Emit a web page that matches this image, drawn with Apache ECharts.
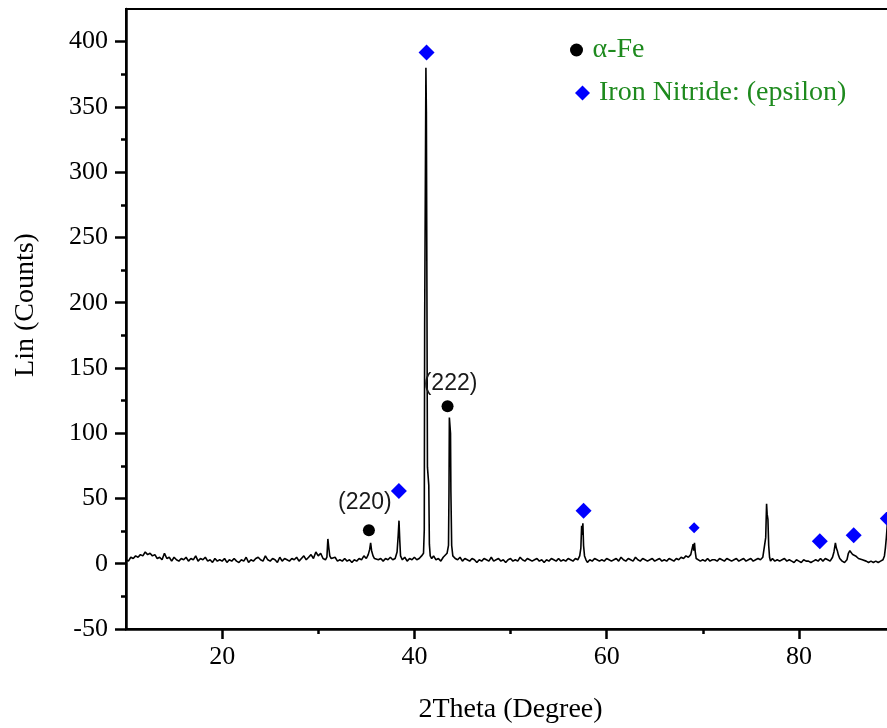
<!DOCTYPE html>
<html><head><meta charset="utf-8">
<script src="https://cdn.jsdelivr.net/npm/echarts@6/dist/echarts.min.js"></script>
<style>html,body{margin:0;padding:0;background:#fff}#c{width:887px;height:728px}</style>
</head><body><div id="c"></div>
<script>
// XRD pattern: [2Theta, Lin counts]
const pattern = [
[10,3],[10.25,2],[10.5,5],[10.75,4],[11,6],[11.25,5],[11.5,7],[11.75,6],[12,9],[12.25,7],[12.5,8],[12.75,6],[13,7],[13.25,4],[13.5,5],[13.75,3],[14,8],[14.25,4],[14.5,5],[14.75,2],
[15,5],[15.25,3],[15.5,2],[15.75,4],[16,3],[16.25,5],[16.5,2],[16.75,4],[17,3],[17.25,6],[17.5,2],[17.75,4],[18,3],[18.25,5],[18.5,2],[18.75,3],[19,1],[19.25,4],[19.5,2],[19.75,3],
[20,2],[20.25,4],[20.5,1],[20.75,3],[21,2],[21.25,4],[21.5,2],[21.75,1],[22,3],[22.25,2],[22.5,5],[22.75,1],[23,3],[23.25,2],[23.5,4],[23.75,5],[24,3],[24.25,2],[24.5,6],[24.75,3],
[25,2],[25.25,4],[25.5,3],[25.75,1],[26,5],[26.25,2],[26.5,4],[26.75,3],[27,2],[27.25,4],[27.5,3],[27.75,5],[28,2],[28.25,4],[28.5,6],[28.75,3],[29,5],[29.25,7],[29.5,4],[29.75,9],
[30,6],[30.25,8],[30.5,4],[30.75,3],[30.9,5],[31,19],[31.1,12],[31.2,6],[31.35,4],[31.5,3],[31.75,5],[32,2],[32.25,3],[32.5,2],[32.75,4],[33,2],[33.25,3],[33.5,1],[33.75,3],[34,2],
[34.25,4],[34.5,3],[34.75,6],[35,4],[35.2,7],[35.35,11],[35.45,16],[35.55,10],[35.7,6],[35.85,4],[36,5],[36.25,3],[36.5,4],[36.75,2],[37,4],[37.25,3],[37.5,5],[37.75,3],[38,4],[38.2,9],
[38.32,22],[38.4,33],[38.48,18],[38.56,6],[38.75,3],[39,5],[39.25,2],[39.5,4],[39.75,3],[40,5],[40.25,3],[40.5,4],[40.75,6],[40.95,8],[41.03,26],[41.07,184],[41.15,184],[41.2,380],[41.25,346],[41.3,346],
[41.36,74],[41.5,60],[41.56,15],[41.65,6],[41.8,4],[42,6],[42.25,3],[42.5,4],[42.75,2],[43,5],[43.2,4],[43.4,8],[43.55,14],[43.6,55],[43.64,112],[43.7,112],[43.76,100],[43.8,55],[43.88,14],[44,6],[44.25,4],[44.5,3],
[44.75,5],[45,2],[45.25,4],[45.5,3],[45.75,2],[46,4],[46.25,3],[46.5,1],[46.75,3],[47,2],[47.25,4],[47.5,3],[47.75,2],[48,5],[48.25,2],[48.5,3],[48.75,4],[49,2],[49.25,3],[49.5,1],
[49.75,3],[50,4],[50.25,2],[50.5,3],[50.75,2],[51,5],[51.25,3],[51.5,2],[51.75,4],[52,3],[52.25,2],[52.5,3],[52.75,4],[53,2],[53.25,3],[53.5,1],[53.75,3],[54,2],[54.25,4],[54.5,3],
[54.75,2],[55,4],[55.25,2],[55.5,3],[55.75,2],[56,4],[56.25,3],[56.5,2],[56.75,4],[57,3],[57.2,6],[57.32,12],[57.4,29],[57.46,22],[57.53,31],[57.6,14],[57.7,6],[57.85,3],[58,1],[58.25,3],
[58.5,2],[58.75,4],[59,3],[59.25,2],[59.5,3],[59.75,2],[60,4],[60.25,3],[60.5,2],[60.75,3],[61,4],[61.25,2],[61.5,5],[61.75,3],[62,2],[62.25,4],[62.5,3],[62.75,2],[63,5],[63.25,3],
[63.5,2],[63.75,4],[64,3],[64.25,2],[64.5,3],[64.75,4],[65,2],[65.25,3],[65.5,4],[65.75,2],[66,3],[66.25,2],[66.5,4],[66.75,3],[67,2],[67.25,4],[67.5,3],[67.75,5],[68,4],[68.25,6],
[68.5,5],[68.75,7],[68.9,8],[69,15],[69.07,10],[69.14,16],[69.22,9],[69.32,4],[69.5,3],[69.75,2],[70,3],[70.25,2],[70.5,4],[70.75,2],[71,3],[71.25,3],[71.5,2],[71.75,4],[72,3],[72.25,2],
[72.5,4],[72.75,3],[73,2],[73.25,3],[73.5,4],[73.75,2],[74,3],[74.25,4],[74.5,2],[74.75,3],[75,4],[75.25,2],[75.5,3],[75.75,4],[76,3],[76.25,5],[76.45,6],[76.55,20],[76.64,46],[76.7,38],
[76.78,34],[76.86,14],[76.95,5],[77.05,2],[77.25,4],[77.5,2],[77.75,3],[78,2],[78.25,3],[78.5,4],[78.75,2],[79,3],[79.25,2],[79.5,1],[79.75,3],[80,2],[80.25,1],[80.5,3],[80.75,2],[81,2],
[81.25,1],[81.5,2],[81.75,3],[82,2],[82.25,4],[82.5,2],[82.75,4],[83,3],[83.25,2],[83.5,5],[83.65,9],[83.8,16],[83.9,12],[84,10],[84.1,7],[84.25,4],[84.5,2],[84.75,1],[85,3],[85.15,8],
[85.3,10],[85.45,9],[85.6,7],[85.75,8],[85.9,6],[86,5],[86.2,4],[86.4,5],[86.6,3],[86.8,4],[87,2],[87.25,1],[87.5,2],[87.75,1],[88,2],[88.25,1],[88.5,2],[88.75,3],[88.9,6],[89,12],
[89.1,20],[89.2,30],[89.3,14],[89.45,6],[89.7,3],[90,2]
];

// Phase markers
const fePoints = [[35.27, 25.7], [43.45, 120.7]];
const feLabels = ['(220)', '(222)'];
const feLabelOffsets = [[-4, -28], [3, -23]];
const nitridePoints = [[41.27, 391.7], [38.39, 55.8], [57.6, 40.5], [69.1, 27.5], [82.18, 17.2], [85.7, 21.8], [89.25, 34.6]];
const nitrideSizes = [16, 16, 16, 11, 16, 16, 16];

// Axis ticks
const xMajorTicks = [20, 40, 60, 80];
const xMinorTicks = [30, 50, 70];
const yMajorTicks = [-50, 0, 50, 100, 150, 200, 250, 300, 350, 400];
const yMinorTicks = [-25, 25, 75, 125, 175, 225, 275, 325, 375];

const serif = 'Liberation Serif';
const legendColor = '#1e8a1e';
const chart = echarts.init(document.getElementById('c'), null, {renderer: 'canvas'});

const axisLineStyle = {color: '#000', width: 2.5};
const option = {
  animation: false,
  backgroundColor: '#fff',
  grid: {left: 126, width: 769, top: 9, height: 620, show: true, borderColor: '#000', borderWidth: 2,
         backgroundColor: 'transparent', containLabel: false, outerBoundsMode: 'none'},
  legend: [
    {data: ['α-Fe'], left: 565, top: 31, orient: 'vertical', itemWidth: 22, itemHeight: 13,
     textStyle: {fontFamily: serif, fontSize: 28, color: legendColor}},
    {data: ['Iron Nitride: (epsilon)'], left: 570, top: 74, orient: 'vertical', itemWidth: 15, itemHeight: 15,
     textStyle: {fontFamily: serif, fontSize: 28, color: legendColor, padding: [0, 0, 0, 4]}}
  ],
  xAxis: [
    {type: 'value', min: 10, max: 90, position: 'bottom',
     name: '2Theta (Degree)', nameLocation: 'middle', nameGap: 67,
     nameTextStyle: {fontFamily: serif, fontSize: 28, color: '#000'},
     axisLine: {onZero: false, lineStyle: axisLineStyle},
     axisTick: {show: true, inside: false, customValues: xMajorTicks, length: 10, lineStyle: axisLineStyle},
     axisLabel: {customValues: xMajorTicks, fontFamily: serif, fontSize: 26, color: '#000', margin: 15},
     splitLine: {show: false}},
    {type: 'value', min: 10, max: 90, position: 'bottom', gridIndex: 0,
     axisLine: {show: false, onZero: false},
     axisTick: {show: true, inside: false, customValues: xMinorTicks, length: 5, lineStyle: axisLineStyle},
     axisLabel: {show: false}, splitLine: {show: false}}
  ],
  yAxis: [
    {type: 'value', min: -50, max: 425, position: 'left',
     name: 'Lin (Counts)', nameLocation: 'middle', nameGap: 86,
     nameTextStyle: {fontFamily: serif, fontSize: 28, color: '#000', padding: [0, 0, 0, 28]},
     axisLine: {show: true, onZero: false, lineStyle: axisLineStyle},
     axisTick: {show: true, inside: false, customValues: yMajorTicks, length: 11, lineStyle: axisLineStyle},
     axisLabel: {customValues: yMajorTicks, fontFamily: serif, fontSize: 26, color: '#000', margin: 18},
     splitLine: {show: false}},
    {type: 'value', min: -50, max: 425, position: 'left', gridIndex: 0,
     axisLine: {show: false, onZero: false},
     axisTick: {show: true, inside: false, customValues: yMinorTicks, length: 5, lineStyle: axisLineStyle},
     axisLabel: {show: false}, splitLine: {show: false}}
  ],
  series: [
    {type: 'line', name: 'pattern', data: pattern, xAxisIndex: 0, yAxisIndex: 0,
     symbol: 'none', showSymbol: false, silent: true,
     lineStyle: {color: '#000', width: 1.6}, z: 2},
    {type: 'scatter', name: 'α-Fe', xAxisIndex: 0, yAxisIndex: 0, symbol: 'circle', symbolSize: 12,
     itemStyle: {color: '#000', opacity: 1}, z: 3,
     data: fePoints.map((p, i) => ({value: p, label: {show: true, position: 'inside', offset: feLabelOffsets[i],
       formatter: feLabels[i], fontFamily: 'Liberation Sans', fontSize: 23, color: '#1a1a1a'}})),
     emphasis: {disabled: true}},
    {type: 'scatter', name: 'Iron Nitride: (epsilon)', xAxisIndex: 0, yAxisIndex: 0, symbol: 'diamond',
     itemStyle: {color: '#0000ff', opacity: 1}, z: 3,
     data: nitridePoints.map((p, i) => ({value: p, symbolSize: nitrideSizes[i]})),
     emphasis: {disabled: true}}
  ]
};
chart.setOption(option);
</script>
</body></html>
